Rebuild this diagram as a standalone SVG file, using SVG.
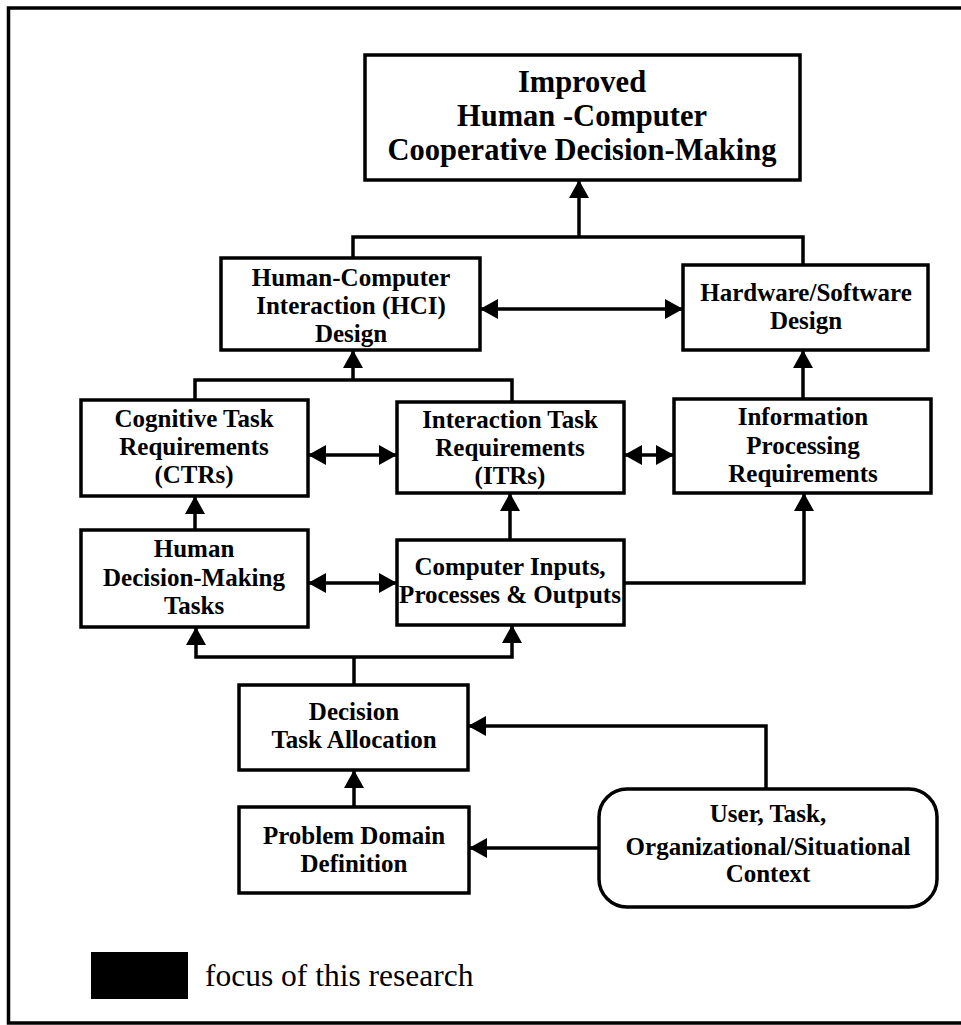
<svg xmlns="http://www.w3.org/2000/svg" width="961" height="1025" viewBox="0 0 961 1025">
  <style>
    .box { fill: #ffffff; stroke: #000000; stroke-width: 3.5; }
    .lbl { font-family: "Liberation Serif", "DejaVu Serif", serif; font-weight: bold; font-size: 25px; text-anchor: middle; fill: #000000; }
    .big { font-size: 30.5px; }
    .wire { fill: none; stroke: #000000; stroke-width: 3.5; }
    .note { font-family: "Liberation Serif", "DejaVu Serif", serif; font-size: 31.5px; fill: #000000; }
  </style>
  <defs>
    <marker id="head" markerUnits="userSpaceOnUse" markerWidth="18" markerHeight="20" refX="17" refY="10" orient="auto-start-reverse">
      <path d="M0,0 L18,10 L0,20 Z" fill="#000000"/>
    </marker>
  </defs>

  <rect width="961" height="1025" fill="#ffffff"/>
  <!-- outer frame -->
  <rect x="8.5" y="8" width="970" height="1015" fill="none" stroke="#000000" stroke-width="3.5"/>

  <g id="connectors">
    <path class="wire" d="M353,258 V237 H803 V265"/>
    <path class="wire" d="M579,237 V181" marker-end="url(#head)"/>
    <path class="wire" d="M481,309 H682" marker-start="url(#head)" marker-end="url(#head)"/>
    <path class="wire" d="M195,400 V380 H512 V402"/>
    <path class="wire" d="M353,380 V351" marker-end="url(#head)"/>
    <path class="wire" d="M309,455 H396" marker-start="url(#head)" marker-end="url(#head)"/>
    <path class="wire" d="M625,455 H673" marker-start="url(#head)" marker-end="url(#head)"/>
    <path class="wire" d="M803,399 V351" marker-end="url(#head)"/>
    <path class="wire" d="M195,530 V497" marker-end="url(#head)"/>
    <path class="wire" d="M510,540 V494" marker-end="url(#head)"/>
    <path class="wire" d="M309,583 H396" marker-start="url(#head)" marker-end="url(#head)"/>
    <path class="wire" d="M624,583 H804 V494" marker-end="url(#head)"/>
    <path class="wire" d="M354,685 V657"/>
    <path class="wire" d="M196,628 V657 H512 V626" marker-start="url(#head)" marker-end="url(#head)"/>
    <path class="wire" d="M766,789 V726 H469" marker-end="url(#head)"/>
    <path class="wire" d="M354,807 V771" marker-end="url(#head)"/>
    <path class="wire" d="M599,848 H470" marker-end="url(#head)"/>
  </g>

  <g id="goal">
    <rect class="box" x="365" y="55" width="435" height="125"/>
    <text class="lbl big" x="582" y="92">Improved</text>
    <text class="lbl big" x="582" y="126">Human -Computer</text>
    <text class="lbl big" x="582" y="160">Cooperative Decision-Making</text>
  </g>

  <g id="hci-design">
    <rect class="box" x="221" y="258" width="259" height="92"/>
    <text class="lbl" x="351" y="286">Human-Computer</text>
    <text class="lbl" x="351" y="314">Interaction (HCI)</text>
    <text class="lbl" x="351" y="342">Design</text>
  </g>

  <g id="hw-sw-design">
    <rect class="box" x="683" y="265" width="245" height="85"/>
    <text class="lbl" x="806" y="301">Hardware/Software</text>
    <text class="lbl" x="806" y="329">Design</text>
  </g>

  <g id="ctrs">
    <rect class="box" x="81" y="400" width="227" height="96"/>
    <text class="lbl" x="194" y="427">Cognitive Task</text>
    <text class="lbl" x="194" y="455">Requirements</text>
    <text class="lbl" x="194" y="483">(CTRs)</text>
  </g>

  <g id="itrs">
    <rect class="box" x="397" y="402" width="227" height="91"/>
    <text class="lbl" x="510" y="428">Interaction Task</text>
    <text class="lbl" x="510" y="456">Requirements</text>
    <text class="lbl" x="510" y="484">(ITRs)</text>
  </g>

  <g id="info-processing">
    <rect class="box" x="674" y="399" width="257" height="94"/>
    <text class="lbl" x="803" y="425">Information</text>
    <text class="lbl" x="803" y="454">Processing</text>
    <text class="lbl" x="803" y="482">Requirements</text>
  </g>

  <g id="human-tasks">
    <rect class="box" x="81" y="530" width="227" height="97"/>
    <text class="lbl" x="194" y="557">Human</text>
    <text class="lbl" x="194" y="586">Decision-Making</text>
    <text class="lbl" x="194" y="614">Tasks</text>
  </g>

  <g id="computer-ipo">
    <rect class="box" x="397" y="540" width="227" height="85"/>
    <text class="lbl" x="510" y="575">Computer Inputs,</text>
    <text class="lbl" x="510" y="603">Processes &amp; Outputs</text>
  </g>

  <g id="task-allocation">
    <rect class="box" x="239" y="685" width="229" height="85"/>
    <text class="lbl" x="354" y="720">Decision</text>
    <text class="lbl" x="354" y="748">Task Allocation</text>
  </g>

  <g id="problem-domain">
    <rect class="box" x="239" y="807" width="230" height="86"/>
    <text class="lbl" x="354" y="844">Problem Domain</text>
    <text class="lbl" x="354" y="872">Definition</text>
  </g>

  <g id="context">
    <rect class="box" x="599" y="789" width="338" height="118" rx="28" ry="28"/>
    <text class="lbl" x="768" y="822">User, Task,</text>
    <text class="lbl" x="768" y="855">Organizational/Situational</text>
    <text class="lbl" x="768" y="882">Context</text>
  </g>

  <g id="legend">
    <rect x="91" y="952" width="97" height="47" fill="#000000"/>
    <text class="note" x="205" y="986">focus of this research</text>
  </g>
</svg>
